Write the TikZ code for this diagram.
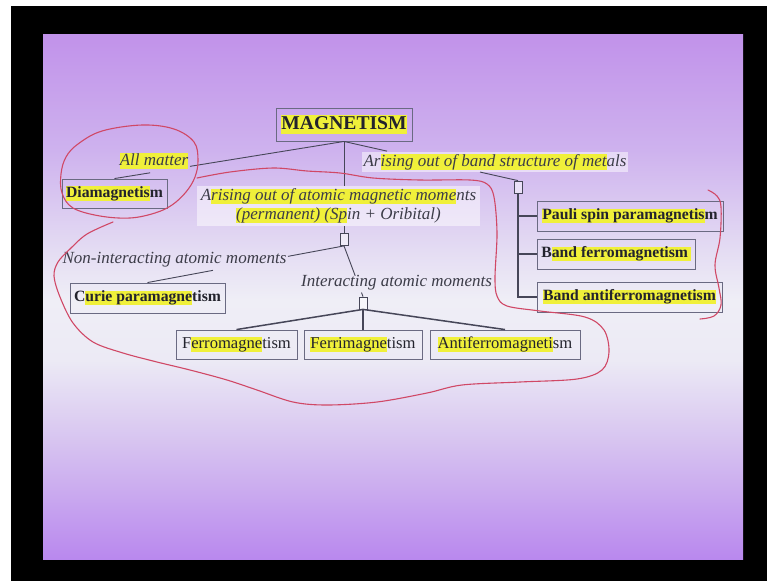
\documentclass[tikz,border=0pt]{standalone}
\usepackage{fontspec}
\setmainfont{Liberation Serif}
\usetikzlibrary{calc}
\definecolor{sbot}{RGB}{185,136,238}
\definecolor{sfourfive}{RGB}{214,194,240}
\definecolor{smid}{RGB}{236,234,245}
\definecolor{smidb}{RGB}{239,238,246}
\definecolor{stwofive}{RGB}{228,220,243}
\definecolor{sonefive}{RGB}{206,178,238}
\definecolor{stopc}{RGB}{193,146,234}
\definecolor{hly}{RGB}{240,240,58}
\definecolor{boxline}{RGB}{106,106,130}
\definecolor{conline}{RGB}{70,70,88}
\definecolor{txtdark}{RGB}{35,35,45}
\definecolor{labtxt}{RGB}{60,60,72}
\definecolor{redpen}{RGB}{208,72,102}
\pgfdeclareverticalshading{slidebg}{100bp}{color(0bp)=(sbot); color(25bp)=(sbot); color(35.86bp)=(sfourfive); color(43.95bp)=(smid); color(49.67bp)=(smidb); color(54.43bp)=(stwofive); color(63.95bp)=(sonefive); color(75bp)=(stopc); color(100bp)=(stopc)}
\newsavebox\hlbox
\newcommand\hlmark[1]{\sbox\hlbox{#1}\rlap{\color{hly}\rule[-0.2em]{\wd\hlbox}{0.92em}}\usebox\hlbox}
\tikzset{
 boxn/.style={draw=boxline, line width=0.9pt, text=txtdark, minimum height=30pt, inner sep=2pt, font=\fontsize{15.7}{18}\selectfont\bfseries, anchor=center},
 boxr/.style={boxn, font=\fontsize{16.6}{18}\selectfont},
 labn/.style={text=labtxt, font=\fontsize{17}{19}\selectfont\itshape, inner sep=1pt},
 wash/.style={fill=white, fill opacity=0.5, text opacity=1},
 sqn/.style={draw=conline, line width=0.8pt, minimum width=8pt, minimum height=12pt, inner sep=0pt, fill=white, fill opacity=0.5},
 conn/.style={draw=conline, line width=0.9pt},
 connb/.style={draw=conline, line width=1.5pt},
 pen/.style={draw=redpen, line width=1.1pt, line cap=round, line join=round},
}
\begin{document}
\begin{tikzpicture}[x=1pt,y=-1pt]
\useasboundingbox (0,0) rectangle (767,581);
\fill[white] (0,0) rectangle (767,581);
\fill[black] (11,6) rectangle (767,581);
\shade[shading=slidebg] (43,34) rectangle (743,559);

% boxes
\node[boxn, font=\fontsize{19.6}{22}\selectfont\bfseries, minimum width=136pt, minimum height=33pt] (mag) at (344,124.5) {\hlmark{MAGNETISM}};
\node[boxn, minimum width=105pt, minimum height=29pt] (dia) at (114.5,193.5) {\hlmark{Diamagnetis}m};
\node[boxn, minimum width=186pt] (pauli) at (630,216) {\hlmark{Pauli spin paramagnetis}m};
\node[boxn, minimum width=158pt] (bferro) at (616,254) {B\hlmark{and ferromagnetism\,}};
\node[boxn, minimum width=185pt] (bafm) at (629.5,297) {\hlmark{Band antiferromagnetism}};
\node[boxn, minimum width=155pt] (curie) at (147.5,298) {C\hlmark{urie paramagne}tism};
\node[boxr, minimum width=121pt, minimum height=29pt] (ferro) at (236.5,344.5) {F\hlmark{erromagne}tism};
\node[boxr, minimum width=118pt, minimum height=29pt] (ferri) at (363,344.5) {\hlmark{Ferrimagne}tism};
\node[boxr, minimum width=150pt, minimum height=29pt] (afm) at (505,344.5) {\hlmark{Antiferromagneti}sm};

% junction squares
\node[sqn] (sq1) at (518,187) {};
\node[sqn] (sq2) at (344,239.5) {};
\node[sqn] (sq3) at (363,303) {};

% labels
\node[labn] (allm) at (154,161) {\hlmark{All matter}};
\node[labn, wash, minimum width=266pt, minimum height=20pt] (bandlab) at (495,162) {Ar\hlmark{ising out of band structure of met}als};
\node[labn, wash, align=center, minimum width=283pt, minimum height=40pt] (atom) at (338.5,206) {A\hlmark{rising out of atomic magnetic mome}nts\\\hlmark{(permanent) (Sp}in + Oribital)};
\node[labn] (nonint) at (174.5,260) {Non-interacting atomic moments};
\node[labn] (inter) at (396.5,283) {Interacting atomic moments};

% connectors
\coordinate (am1) at ($(mag.south)!0.671!(dia.north)$);
\coordinate (am2) at ($(mag.south)!0.845!(dia.north)$);
\draw[conn] (mag.south) -- (am1);
\draw[conn] (am2) -- (dia.north);

\coordinate (bm1) at ($(mag.south)!0.247!(sq1.north)$);
\coordinate (bm2) at ($(mag.south)!0.782!(sq1.north)$);
\draw[conn] (mag.south) -- (bm1);
\draw[conn] (bm2) -- (sq1.north);

\draw[conn] (mag.south) -- (mag.south |- atom.north);
\draw[conn] (mag.south |- atom.south) -- (sq2.north);

\coordinate (nm1) at ($(sq2.south)!0.285!(curie.north)$);
\coordinate (nm2) at ($(sq2.south)!0.667!(curie.north)$);
\draw[conn] (sq2.south) -- (nm1);
\draw[conn] (nm2) -- (curie.north);

\coordinate (im1) at ($(sq2.south)!0.59!(sq3.north)$);
\coordinate (im2) at ($(sq2.south)!0.92!(sq3.north)$);
\draw[conn] (sq2.south) -- (im1);
\draw[conn] (im2) -- (sq3.north);

\draw[connb] (sq3.south) -- (ferro.north);
\draw[connb] (sq3.south) -- (ferri.north);
\draw[connb] (sq3.south) -- (afm.north);

\draw[conn, line width=1.2pt] (sq1.south) |- (pauli.west);
\draw[conn, line width=1.2pt] (sq1.south) |- (bferro.west);
\draw[conn, line width=1.2pt] (sq1.south) |- (bafm.west);

% red pen annotations
\draw[pen] plot[smooth cycle, tension=0.6] coordinates {(78,144) (102,131) (142,125) (174,129) (194,142) (198,160) (195,177) (186,192) (172,205) (155,213) (130,218) (100,216) (73,208) (62,193) (61,174) (66,157)};
\draw[pen] plot[smooth, tension=0.55] coordinates {(197,178) (230,172) (273,168) (307,171) (340,173) (373,178) (420,180) (470,180) (487,184) (494,197) (497,233) (495,277) (497,296) (507,306) (540,311) (585,317) (604,330) (609,352) (602,370) (577,379) (520,382) (462,385) (427,393) (377,402) (327,405) (293,402) (257,390) (227,380) (190,370) (157,362) (123,353) (93,342) (73,323) (60,297) (54,276) (58,262) (70,249) (87,234) (113,222)};
\draw[pen] plot[smooth, tension=0.6] coordinates {(708,190) (717,196) (721,207) (720,238) (715,265) (719,288) (721,305) (714,316) (700,319)};
\end{tikzpicture}
\end{document}
